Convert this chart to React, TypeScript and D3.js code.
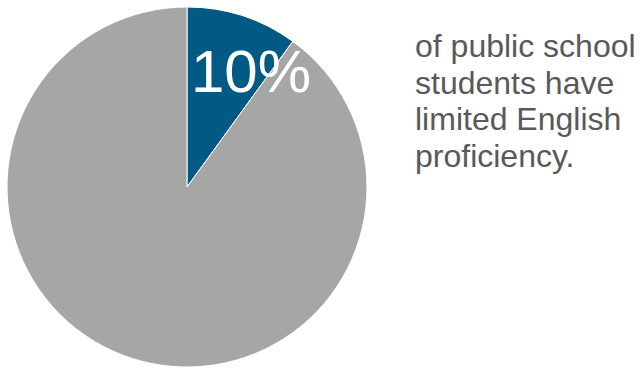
import React from "react";
import * as d3 from "d3";

const categories = ["Limited English proficiency", "Other students"];
const values = [10, 90];
const colors = ["#005a84", "#a6a6a6"];
const bigLabel = "10%";
const captionLines = ["of public school", "students have", "limited English", "proficiency."];

export default function App() {
  const W = 640, H = 368;
  const cx = 187, cy = 187, r = 180;
  const pie = d3.pie<number>().sort(null).value((d) => d)(values);
  const arc = d3.arc<d3.PieArcDatum<number>>().innerRadius(0).outerRadius(r);
  return (
    <svg width={W} height={H} style={{ position: "absolute", left: 0, top: 0 }}
      fontFamily="'Liberation Sans', Arial, sans-serif">
      <rect width={W} height={H} fill="#fff" />
      <g transform={`translate(${cx},${cy})`}>
        {pie.map((p, i) => (
          <path key={categories[i]} d={arc(p) || ""} fill={colors[i]} stroke="#ffffff" strokeWidth={1} />
        ))}
      </g>
      <text x={191} y={92} fontSize={60} fill="#fff">{bigLabel}</text>
      {captionLines.map((l, i) => (
        <text key={i} x={415} y={57 + i * 36.5} fontSize={32} fill="#595959">{l}</text>
      ))}
    </svg>
  );
}
